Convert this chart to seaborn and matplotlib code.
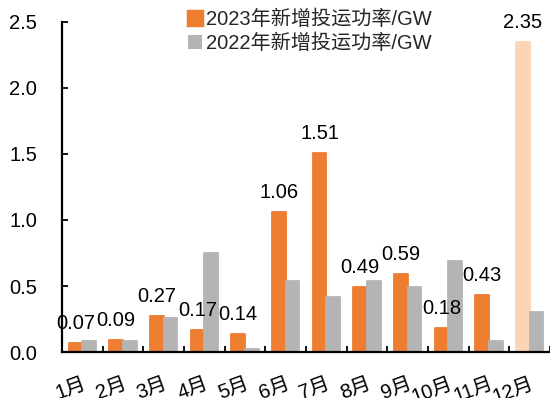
import matplotlib
matplotlib.use("Agg")
import matplotlib.pyplot as plt
import seaborn as sns
import pandas as pd
from matplotlib.patches import Patch

months = ["1月", "2月", "3月", "4月", "5月", "6月", "7月", "8月", "9月", "10月", "11月", "12月"]
series_2023 = [0.07, 0.09, 0.27, 0.17, 0.14, 1.06, 1.51, 0.49, 0.59, 0.18, 0.43, 2.35]
series_2022 = [0.08, 0.08, 0.26, 0.75, 0.02, 0.54, 0.42, 0.54, 0.49, 0.69, 0.08, 0.30]
label_2023 = "2023年新增投运功率/GW"
label_2022 = "2022年新增投运功率/GW"
yticks = [0.0, 0.5, 1.0, 1.5, 2.0, 2.5]

ORANGE = "#ED7D31"
GRAY = "#B4B4B4"
PEACH = "#FDD5B4"
FS = 14.5

sns.set_theme(style="white")
plt.rcParams["font.family"] = ["Liberation Sans", "Noto Sans CJK SC", "DejaVu Sans"]

df = pd.DataFrame({
    "month": months * 2,
    "value": series_2023 + series_2022,
    "series": [label_2023] * len(months) + [label_2022] * len(months),
})

fig = plt.figure(figsize=(5.5, 3.98), dpi=100)
ax = fig.add_axes([62 / 550, 46 / 398, 488 / 550, 330 / 398])

sns.barplot(data=df, x="month", y="value", hue="series", order=months,
            hue_order=[label_2023, label_2022], palette=[ORANGE, GRAY],
            width=0.67, legend=False, ax=ax, errorbar=None, saturation=1)

# slightly rounded bar tops: an edge in the fill colour with round joins
for cont in ax.containers:
    for bar in cont:
        bar.set_edgecolor(bar.get_facecolor())
        bar.set_linewidth(1.3)
        bar.set_joinstyle("round")

# the December 2023 bar is an estimate, drawn in a pale tint
dec = ax.containers[0][len(months) - 1]
dec.set_facecolor(PEACH)
dec.set_edgecolor(PEACH)

# value labels above the 2023 bars
for bar, v in zip(ax.containers[0], series_2023):
    ax.annotate(f"{v:.2f}", (bar.get_x() + bar.get_width() / 2, v),
                xytext=(0, 10), textcoords="offset points",
                ha="center", va="baseline", fontsize=FS, color="#000000")

ax.set_xlim(-0.5, len(months) - 0.5)
ax.set_ylim(0, 2.5)
ax.set_yticks(yticks)
ax.set_yticklabels([f"{t:.1f}" for t in yticks])
ax.set_xlabel("")
ax.set_ylabel("")

for s in ["top", "right"]:
    ax.spines[s].set_visible(False)
for s in ["left", "bottom"]:
    ax.spines[s].set_color("#000000")
    ax.spines[s].set_linewidth(1.6)

ax.tick_params(axis="y", direction="in", length=4, width=1.3, color="#000000",
               pad=18, labelsize=FS, labelcolor="#000000", left=True)
ax.set_xticks(range(len(months)))
ax.set_xticks([i + 0.5 for i in range(len(months))], minor=True)
ax.tick_params(axis="x", which="major", length=0, pad=16, labelsize=FS,
               labelcolor="#000000")
ax.tick_params(axis="x", which="minor", direction="in", length=4, width=1.3,
               color="#000000", bottom=True)
for lab in ax.get_xticklabels():
    lab.set_rotation(20)
    lab.set_ha("right")
    lab.set_va("top")
    lab.set_rotation_mode("anchor")

handles = [
    Patch(facecolor=ORANGE, edgecolor=ORANGE, linewidth=2.5, joinstyle="round"),
    Patch(facecolor=GRAY, edgecolor="none"),
]
ax.legend(handles, [label_2023, label_2022], loc="upper left",
          bbox_to_anchor=(184 / 550, 1 - 6 / 398), bbox_transform=fig.transFigure,
          frameon=False, fontsize=FS, handlelength=0.7, handleheight=0.7,
          handletextpad=0.2, labelspacing=0.2, borderaxespad=0, borderpad=0.2)

fig.savefig("out.png", dpi=100)
